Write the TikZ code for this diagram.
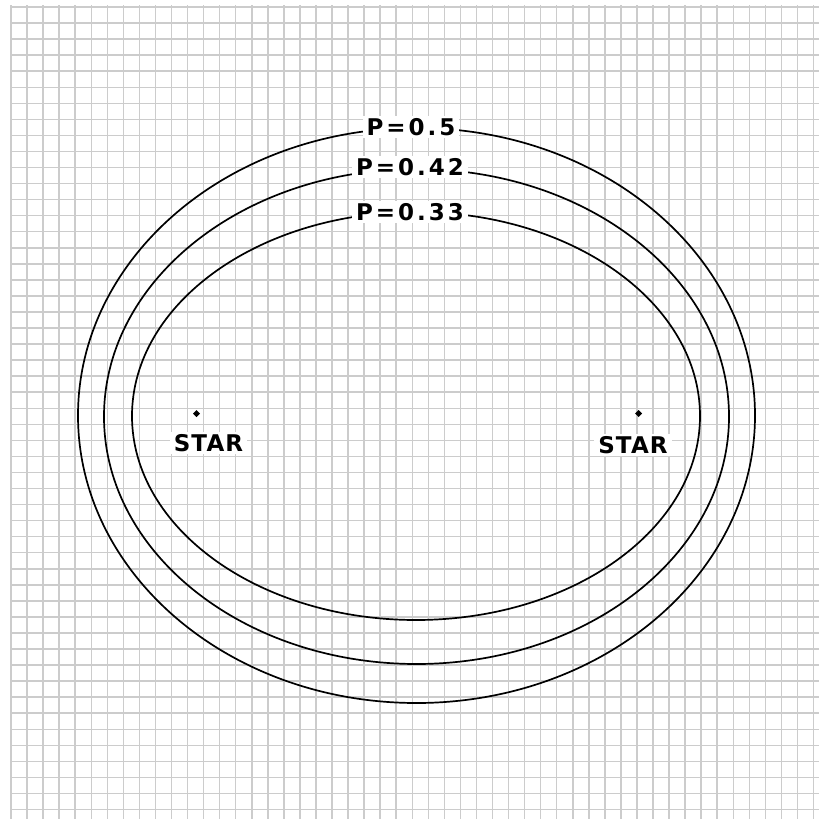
\documentclass[tikz,border=0pt]{standalone}
\usepackage{fontspec}
\newfontfamily\labfont{DejaVu Sans}[LetterSpace=5]
\newfontfamily\plabfont{DejaVu Sans}[LetterSpace=13]
\tikzset{
  gridline/.style={draw=black!20, line width=1.5pt},
  orbit/.style={draw=black, line width=1.7pt},
  lab/.style={fill=white, inner xsep=4pt, inner ysep=2pt, font=\labfont\bfseries\fontsize{23}{27}\selectfont, text=black},
  plab/.style={lab, font=\plabfont\bfseries\fontsize{23}{27}\selectfont},
  stardot/.style={fill=black}
}
\begin{document}
\begin{tikzpicture}[x=1pt,y=-1pt]
\useasboundingbox (0,0) rectangle (819,819);
\fill[white] (0,0) rectangle (819,819);
% grid
\foreach \i in {0,...,50} {
  \draw[gridline] ({11+16.05*\i},5) -- ({11+16.05*\i},819);
  \draw[gridline] (10,{7+16.05*\i}) -- (819,{7+16.05*\i});
}
% orbits
\draw[orbit] (416.5,415.5) ellipse [x radius=338.5, y radius=287.5];
\draw[orbit] (416.5,416.5) ellipse [x radius=312.5, y radius=247.5];
\draw[orbit] (416,416) ellipse [x radius=284, y radius=204];
% labels
\node[plab] (p50) at (411,127) {P=0.5};
\node[plab] (p42) at (410,167) {P=0.42};
\node[plab] (p33) at (410,212) {P=0.33};
% stars
\coordinate (s1) at (196.5,413.5);
\coordinate (s2) at (638.5,413.5);
\fill[stardot] (s1) +(0,-3.5) -- +(3.5,0) -- +(0,3.5) -- +(-3.5,0) -- cycle;
\fill[stardot] (s2) +(0,-3.5) -- +(3.5,0) -- +(0,3.5) -- +(-3.5,0) -- cycle;
\node[lab] (l1) at (208.5,443) {STAR};
\node[lab] (l2) at (633,445) {STAR};
\end{tikzpicture}
\end{document}
